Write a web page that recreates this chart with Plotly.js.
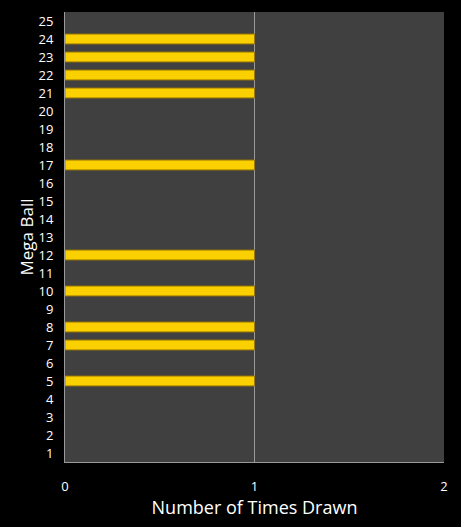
<!DOCTYPE html>
<html>
<head>
<meta charset="utf-8">
<script src="https://cdn.plot.ly/plotly-3.0.1.min.js"></script>
<style>
  html, body { margin: 0; padding: 0; background: #000; }
  #chart { width: 461px; height: 527px; }
</style>
</head>
<body>
<div id="chart"></div>
<script>
// Mega Ball numbers drawn and how many times
const megaBalls = [5, 7, 8, 10, 12, 17, 21, 22, 23, 24];
const timesDrawn = [1, 1, 1, 1, 1, 1, 1, 1, 1, 1];
const yTickVals = [];
for (let i = 1; i <= 25; i++) yTickVals.push(i);
const xTickVals = [0, 1, 2];

const bars = {
  type: 'bar',
  orientation: 'h',
  x: timesDrawn,
  y: megaBalls,
  width: 0.55,
  marker: {
    color: '#FAD000',
    line: { color: '#9C7A00', width: 1 }
  },
  hoverinfo: 'x+y'
};

const layout = {
  width: 461,
  height: 527,
  paper_bgcolor: '#000000',
  plot_bgcolor: '#404040',
  margin: { l: 65, r: 17, t: 12, b: 65 },
  font: { family: 'Open Sans, sans-serif', color: '#ffffff', size: 13 },
  showlegend: false,
  xaxis: {
    range: [0, 2],
    tickvals: xTickVals,
    showgrid: true,
    gridcolor: '#9a9a9a',
    gridwidth: 1,
    zeroline: false,
    showline: true,
    linecolor: '#9a9a9a',
    linewidth: 1,
    ticks: '',
    ticklabelstandoff: 12,
    tickfont: { size: 13, color: '#ffffff' },
    title: { text: 'Number of Times Drawn', font: { size: 18, color: '#ffffff' }, standoff: 4 },
    fixedrange: true
  },
  yaxis: {
    range: [0.5, 25.5],
    tickvals: yTickVals,
    showgrid: false,
    zeroline: false,
    showline: true,
    linecolor: '#9a9a9a',
    linewidth: 1,
    ticks: '',
    ticklabelstandoff: 8,
    tickfont: { size: 13, color: '#ffffff' },
    title: { text: 'Mega Ball', font: { size: 17, color: '#ffffff' }, standoff: 0 },
    fixedrange: true
  }
};

Plotly.newPlot('chart', [bars], layout, { displayModeBar: false, staticPlot: true });
</script>
</body>
</html>
